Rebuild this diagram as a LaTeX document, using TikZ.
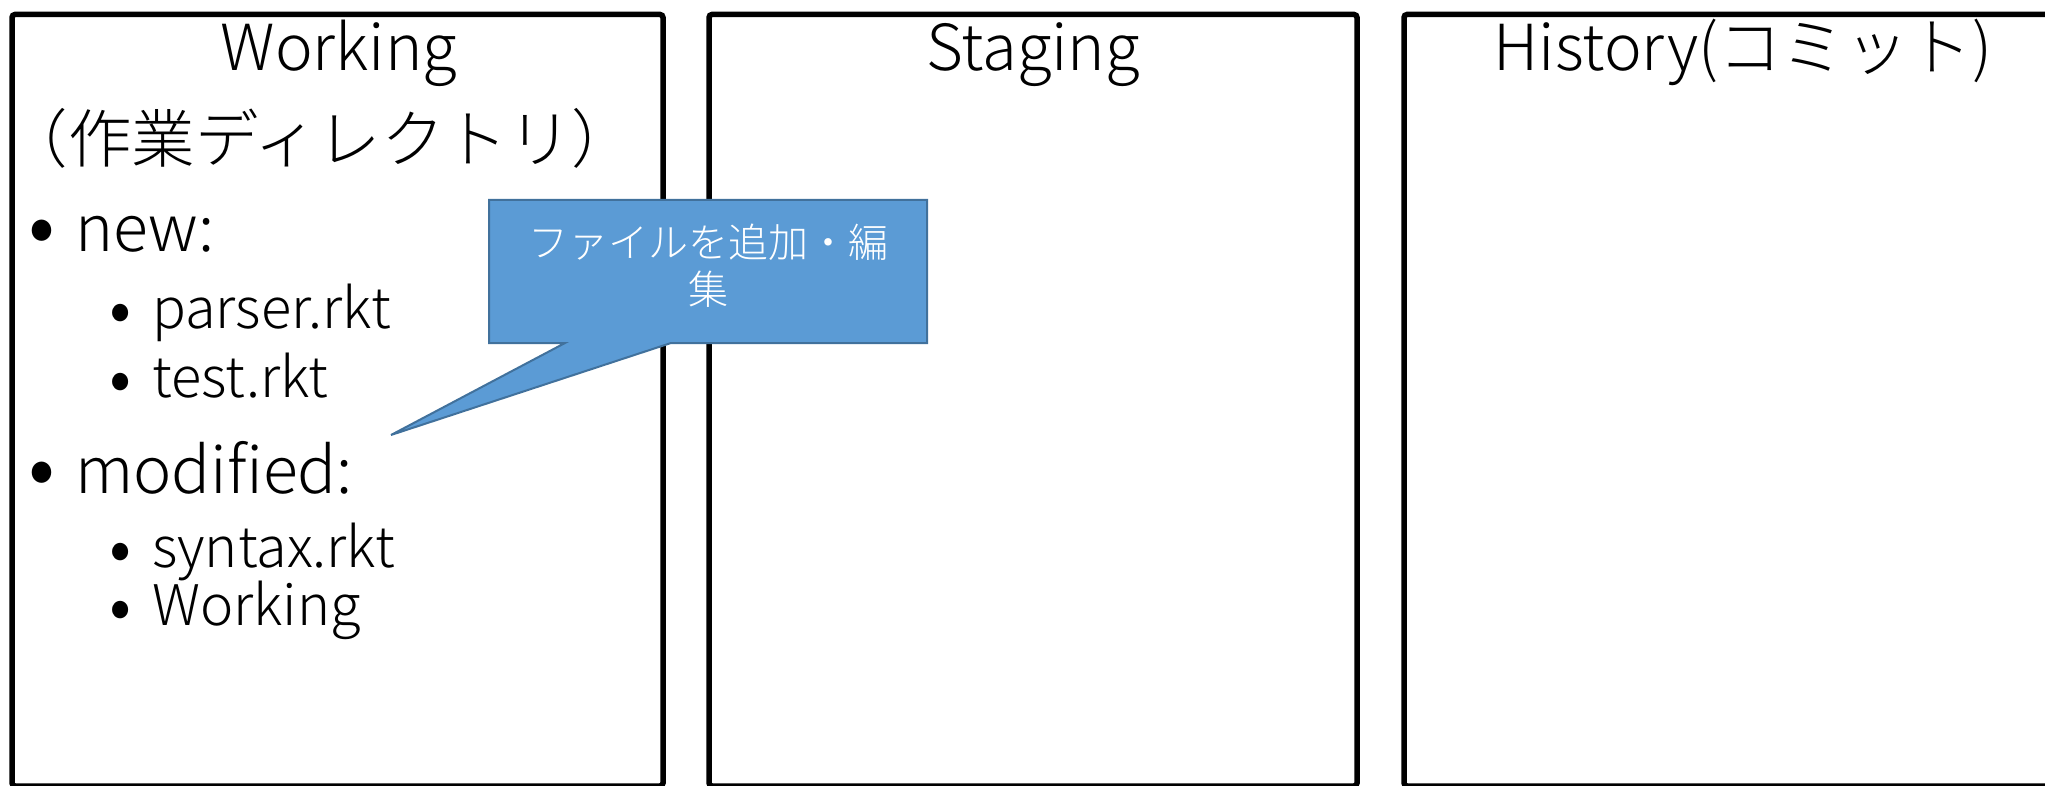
\documentclass[tikz,border=0pt]{standalone}
\usepackage{fontspec}
\setmainfont{Noto Sans CJK JP}[UprightFont=* Light]
\definecolor{calloutfill}{HTML}{5B9BD5}
\definecolor{calloutline}{HTML}{41719C}
\newcommand{\bulone}{\makebox[47pt][l]{\makebox[0pt][l]{\raisebox{-4pt}{\fontsize{85}{85}\selectfont •}}}}
\newcommand{\bultwo}{\makebox[43pt][l]{\makebox[0pt][l]{\raisebox{-5pt}{\fontsize{70}{70}\selectfont •}}}}
\tikzset{
  panel/.style={draw=black, line width=5.5pt, rounded corners=3pt},
  paneltitle/.style={inner sep=0pt, anchor=base, font=\fontsize{63.5}{66}\selectfont},
  itemone/.style={inner sep=0pt, anchor=base west, text height=48pt, text depth=14pt, font=\fontsize{64.5}{70}\selectfont},
  itemtwo/.style={inner sep=0pt, anchor=base west, text height=41pt, text depth=12pt, font=\fontsize{56}{60}\selectfont},
  calloutshape/.style={fill=calloutfill, draw=calloutline, line width=2pt, line join=miter},
  callouttext/.style={inner sep=0pt, align=center, text=white, font=\fontsize{40}{47}\selectfont}
}
\begin{document}
\begin{tikzpicture}[x=1pt,y=-1pt]
\useasboundingbox (0,0) rectangle (2045,786);
\clip (0,0) rectangle (2045,786);
% panels
\draw[panel] (12,14.5) rectangle (663,786);
\draw[panel] (709,14.5) rectangle (1357,786);
\draw[panel] (1404,14.5) rectangle (2082,786);
% titles
\node[paneltitle] (wt) at (339,71) {Working};
\node[paneltitle] (wj) at (320,163) {（作業ディレクトリ）};
\node[paneltitle] (st) at (1033,71) {Staging};
\node[paneltitle] (ht) at (1743,71) {History(コミット)};
% list
\node[itemone] (inew) at (28,252) {\bulone new:};
\node[itemtwo] (ipar) at (109,328) {\bultwo parser.rkt};
\node[itemtwo] (ites) at (109,397) {\bultwo test.rkt};
\node[itemone] (imod) at (28,493) {\bulone modified:};
\node[itemtwo] (isyn) at (109,567) {\bultwo syntax.rkt};
\node[itemtwo] (iwor) at (109,625) {\bultwo Working};
% callout
\draw[calloutshape] (489,200) -- (927,200) -- (927,343) -- (671,343) -- (391,435) -- (565,343) -- (489,343) -- cycle;
\node[callouttext] (ctext) at (708,266) {ファイルを追加・編\\集};
\end{tikzpicture}
\end{document}
